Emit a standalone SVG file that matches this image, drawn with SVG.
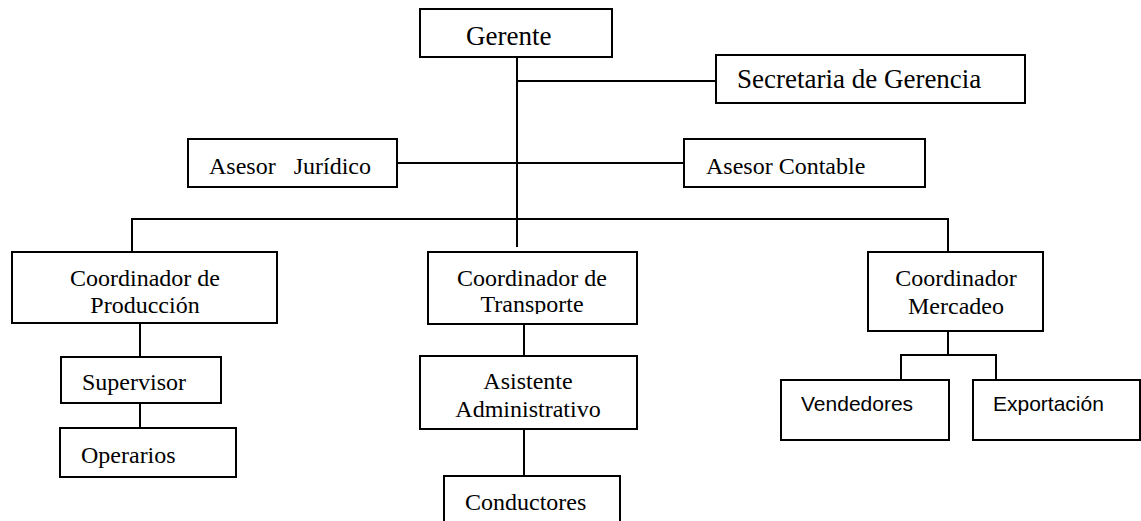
<svg xmlns="http://www.w3.org/2000/svg" width="1141" height="521" viewBox="0 0 1141 521">
  <style>
    .box { fill: #ffffff; stroke: #000000; stroke-width: 2; }
    .wire { fill: none; stroke: #000000; stroke-width: 2; }
    .lbl { font-family: "Liberation Serif", "Times New Roman", serif; font-size: 24px; fill: #000000; }
    .big { font-size: 27px; }
    .mid { text-anchor: middle; }
    .sans { font-family: "Liberation Sans", Arial, sans-serif; font-size: 21px; fill: #000000; }
  </style>
  <defs>
    <clipPath id="clip-transporte">
      <rect x="428" y="252" width="209" height="62"/>
    </clipPath>
  </defs>
  <rect width="1141" height="521" fill="#ffffff"/>

  <!-- connectors -->
  <g id="connectors">
    <path class="wire" d="M517 57 V247"/>
    <path class="wire" d="M517 81 H716"/>
    <path class="wire" d="M397 163 H684"/>
    <path class="wire" d="M132 252 V219 H948 V260"/>
    <path class="wire" d="M140 323 V357"/>
    <path class="wire" d="M140 403 V428"/>
    <path class="wire" d="M524 324 V356"/>
    <path class="wire" d="M524 429 V476"/>
    <path class="wire" d="M948 331 V355"/>
    <path class="wire" d="M901 380 V355 H996 V380"/>
  </g>

  <g id="gerente">
    <rect class="box" x="420" y="9" width="192" height="48"/>
    <text class="lbl big" x="466" y="45">Gerente</text>
  </g>

  <g id="secretaria">
    <rect class="box" x="716" y="55" width="309" height="48"/>
    <text class="lbl big" x="737" y="88">Secretaria de Gerencia</text>
  </g>

  <g id="asesor-juridico">
    <rect class="box" x="188" y="139" width="209" height="48"/>
    <text class="lbl" x="209" y="174" xml:space="preserve">Asesor   Jurídico</text>
  </g>

  <g id="asesor-contable">
    <rect class="box" x="684" y="139" width="241" height="48"/>
    <text class="lbl" x="706" y="174">Asesor Contable</text>
  </g>

  <g id="coord-produccion">
    <rect class="box" x="12" y="252" width="265" height="71"/>
    <text class="lbl mid" x="145" y="286">Coordinador de</text>
    <text class="lbl mid" x="145" y="313">Producción</text>
  </g>

  <g id="supervisor">
    <rect class="box" x="61" y="357" width="160" height="46"/>
    <text class="lbl" x="82" y="390">Supervisor</text>
  </g>

  <g id="operarios">
    <rect class="box" x="60" y="428" width="176" height="49"/>
    <text class="lbl" x="81" y="463">Operarios</text>
  </g>

  <g id="coord-transporte">
    <rect class="box" x="428" y="252" width="209" height="72"/>
    <text class="lbl mid" x="532" y="286">Coordinador de</text>
    <text class="lbl mid" x="532" y="312" clip-path="url(#clip-transporte)">Transporte</text>
  </g>

  <g id="asistente">
    <rect class="box" x="420" y="356" width="217" height="73"/>
    <text class="lbl mid" x="528" y="389">Asistente</text>
    <text class="lbl mid" x="528" y="417">Administrativo</text>
  </g>

  <g id="conductores">
    <rect class="box" x="444" y="476" width="176" height="60"/>
    <text class="lbl" x="465" y="510">Conductores</text>
  </g>

  <g id="coord-mercadeo">
    <rect class="box" x="868" y="252" width="175" height="79"/>
    <text class="lbl mid" x="956" y="286">Coordinador</text>
    <text class="lbl mid" x="956" y="314">Mercadeo</text>
  </g>

  <g id="vendedores">
    <rect class="box" x="781" y="380" width="168" height="60"/>
    <text class="sans" x="801" y="411">Vendedores</text>
  </g>

  <g id="exportacion">
    <rect class="box" x="973" y="380" width="167" height="60"/>
    <text class="sans" x="993" y="411">Exportación</text>
  </g>
</svg>
